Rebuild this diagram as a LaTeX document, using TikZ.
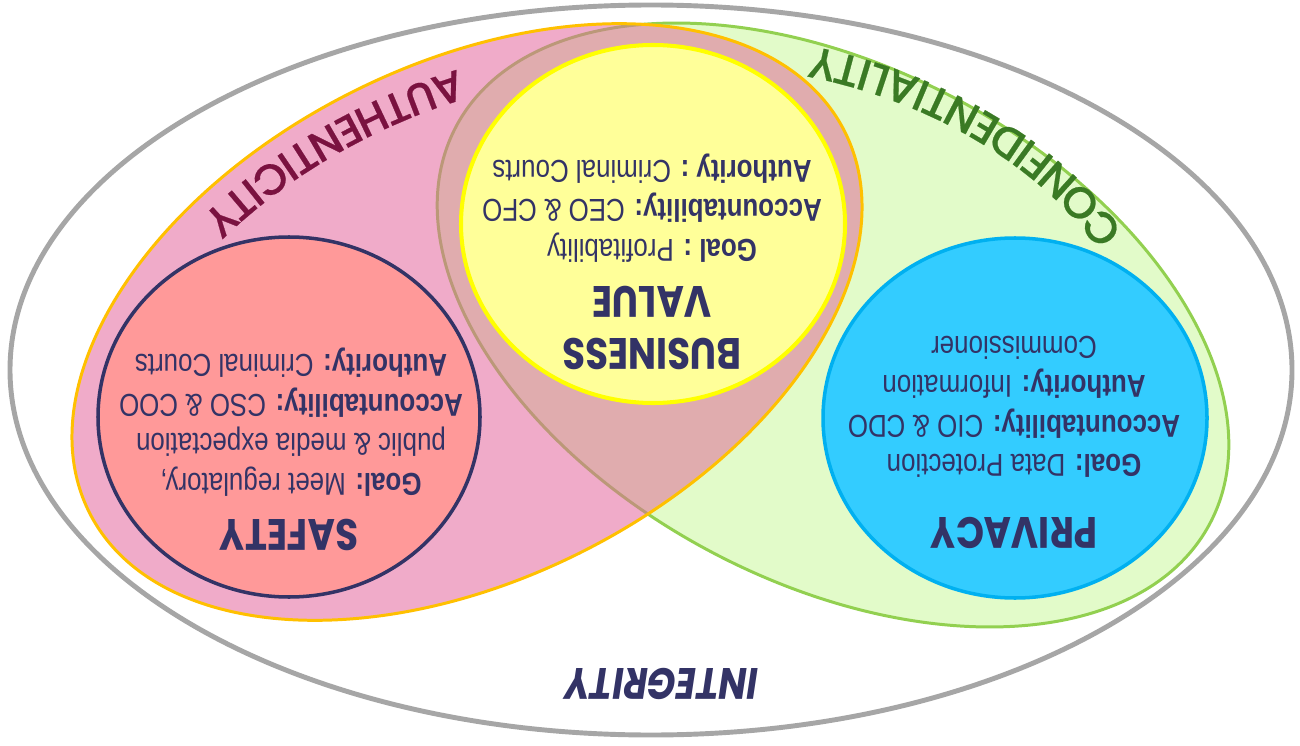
\documentclass[tikz,border=0pt]{standalone}
\usepackage{fontspec}
\usetikzlibrary{decorations.text}
\newfontfamily\headfont[FakeStretch=0.85]{Poppins}
\newfontfamily\arcfont[FakeBold=0.5]{Poppins Medium}
\newfontfamily\bodyfont[FakeStretch=0.82]{Liberation Sans}
\definecolor{navy}{HTML}{333366}
\definecolor{ringgray}{HTML}{A6A6A6}
\definecolor{authfill}{HTML}{F0ABC9}
\definecolor{authline}{HTML}{FFC000}
\definecolor{conffill}{HTML}{E2FBC9}
\definecolor{confline}{HTML}{92D050}
\definecolor{bothfill}{HTML}{E0ACAE}
\definecolor{bothline}{HTML}{BB9878}
\definecolor{valfill}{HTML}{FFFF99}
\definecolor{valline}{HTML}{FFFF00}
\definecolor{safefill}{HTML}{FF9999}
\definecolor{privfill}{HTML}{33CCFF}
\definecolor{privline}{HTML}{00B0F0}
\definecolor{authtext}{HTML}{7A1240}
\definecolor{conftext}{HTML}{3A7A24}

\newcommand\authpath{(467,322) ellipse (423 and 257)}
\newcommand\confpath{(833,325) ellipse (426 and 257.5)}

\tikzset{
  zone/.style={line width=1.7pt},
  authtilt/.style={rotate around={26.8:(467,322)}},
  conftilt/.style={rotate around={-27.7:(833,325)}},
  title/.style={rotate=180,text=navy,align=center,
    font=\headfont\bfseries\fontsize{25}{30}\selectfont},
  body/.style={rotate=180,text=navy,align=center,
    font=\bodyfont\fontsize{18}{22.5}\selectfont},
  arc/.style={decorate,decoration={text along path,text align=center,text={#1}}}
}

\begin{document}
\begin{tikzpicture}[x=0.02cm,y=-0.02cm]
\useasboundingbox (0,0) rectangle (1300,746);

% integrity
\draw[ringgray,line width=2.8pt,fill=white] (651,370) ellipse (641 and 365);

% confidentiality and authenticity
\draw[zone,confline,fill=conffill,conftilt] \confpath;
\fill[authfill,authtilt] \authpath;
\begin{scope}
  \clip[authtilt] \authpath;
  \fill[bothfill,conftilt] \confpath;
  \draw[zone,bothline,conftilt] \confpath;
\end{scope}
\draw[zone,authline,authtilt] \authpath;

% the three circles
\draw[line width=2pt,navy,fill=safefill] (289,417) ellipse (191 and 180);
\draw[line width=2.3pt,valline,fill=valfill] (653,224) ellipse (192 and 179);
\draw[line width=2pt,privline,fill=privfill] (1015,418) ellipse (192 and 180);

% labels
\node[title] (safetyT) at (289,535) {SAFETY};
\node[body] (safetyB) at (291,422) {\textbf{Goal:} Meet regulatory,\\public \& media expectation\\\textbf{Accountability:} CSO \& COO\\\textbf{Authority:} Criminal Courts};

\node[title] (valueT) at (652,328) {BUSINESS\\VALUE};
\node[body] (valueB) at (652,208) {\textbf{Goal :} Profitability\\\textbf{Accountability:} CEO \& CFO\\\textbf{Authority :} Criminal Courts};

\node[title] (privacyT) at (1014,533) {PRIVACY};
\node[body] (privacyB) at (1014,407) {\textbf{Goal:} Data Protection\\\textbf{Accountability:} CIO \& CDO\\\textbf{Authority:} Information\\Commissioner};

\node[title,font=\headfont\bfseries\itshape\fontsize{25}{30}\selectfont] (integrity) at (662,684) {INTEGRITY};

\path[arc={|\arcfont\fontsize{24.5}{24.5}\selectfont\color{authtext}|AUTHENTICITY}]
  (494,60) .. controls (394,83) and (266,143) .. (176,245);
\path[arc={|\arcfont\fontsize{25}{25}\selectfont\color{conftext}|CONFIDENTIALITY}]
  (1145,270) .. controls (1088,150) and (930,58) .. (770,40);
\end{tikzpicture}
\end{document}
